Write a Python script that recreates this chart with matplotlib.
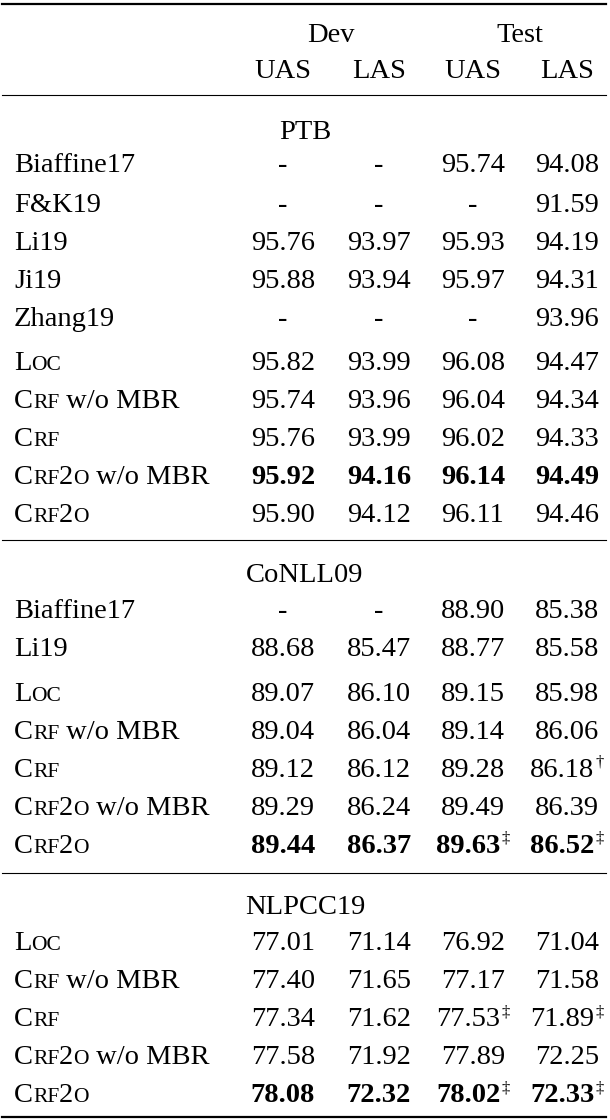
import matplotlib
matplotlib.use("Agg")
import matplotlib.pyplot as plt

# table content
sections = ["PTB", "CoNLL09", "NLPCC19"]

ptb_models = ["Biaffine17", "F&K19", "Li19", "Ji19", "Zhang19",
              "Loc", "Crf w/o MBR", "Crf", "Crf2o w/o MBR", "Crf2o"]
ptb_values = [["-", "-", "95.74", "94.08"],
              ["-", "-", "-", "91.59"],
              ["95.76", "93.97", "95.93", "94.19"],
              ["95.88", "93.94", "95.97", "94.31"],
              ["-", "-", "-", "93.96"],
              ["95.82", "93.99", "96.08", "94.47"],
              ["95.74", "93.96", "96.04", "94.34"],
              ["95.76", "93.99", "96.02", "94.33"],
              ["95.92", "94.16", "96.14", "94.49"],
              ["95.90", "94.12", "96.11", "94.46"]]
ptb_marks = [[""] * 4 for _ in ptb_models]
ptb_bold = 8

conll_models = ["Biaffine17", "Li19", "Loc", "Crf w/o MBR", "Crf",
                "Crf2o w/o MBR", "Crf2o"]
conll_values = [["-", "-", "88.90", "85.38"],
                ["88.68", "85.47", "88.77", "85.58"],
                ["89.07", "86.10", "89.15", "85.98"],
                ["89.04", "86.04", "89.14", "86.06"],
                ["89.12", "86.12", "89.28", "86.18"],
                ["89.29", "86.24", "89.49", "86.39"],
                ["89.44", "86.37", "89.63", "86.52"]]
conll_marks = [[""] * 4 for _ in conll_models]
conll_marks[4][3] = "\u2020"
conll_marks[6][2] = "\u2021"
conll_marks[6][3] = "\u2021"
conll_bold = 6

nlpcc_models = ["Loc", "Crf w/o MBR", "Crf", "Crf2o w/o MBR", "Crf2o"]
nlpcc_values = [["77.01", "71.14", "76.92", "71.04"],
                ["77.40", "71.65", "77.17", "71.58"],
                ["77.34", "71.62", "77.53", "71.89"],
                ["77.58", "71.92", "77.89", "72.25"],
                ["78.08", "72.32", "78.02", "72.33"]]
nlpcc_marks = [[""] * 4 for _ in nlpcc_models]
nlpcc_marks[2][2] = "\u2021"
nlpcc_marks[2][3] = "\u2021"
nlpcc_marks[4][2] = "\u2021"
nlpcc_marks[4][3] = "\u2021"
nlpcc_bold = 4

col_x = [283, 379, 473, 567]
FONT = "Liberation Serif"
FS = 20.5
SMALL = 15.5

fig = plt.figure(figsize=(6.1, 11.2), dpi=100)
ax = fig.add_axes([0, 0, 1, 1])
ax.set_xlim(0, 610)
ax.set_ylim(1120, 0)
ax.axis("off")
renderer = fig.canvas.get_renderer()


def width_of(t):
    bb = t.get_window_extent(renderer=renderer)
    return bb.width  # 1 px == 1 data unit here


def label_parts(name):
    # small caps for model names Loc / Crf / Crf2o
    head, _, tail = name.partition(" ")
    parts = []
    if head in ("Loc", "Crf", "Crf2o"):
        parts.append((head[0], False))
        rest = head[1:]
        if rest.startswith("rf"):
            parts.append(("RF", True))
            rest = rest[2:]
        elif rest == "oc":
            parts.append(("OC", True))
            rest = ""
        if rest == "2o":
            parts.append(("2", False))
            parts.append(("O", True))
    else:
        parts.append((head, False))
    if tail:
        parts.append((" " + tail, False))
    return parts


def draw_label(x, y, name):
    for txt, small in label_parts(name):
        t = ax.text(x, y, txt, fontsize=SMALL if small else FS, family=FONT,
                    ha="left", va="baseline")
        x += width_of(t)


def draw_cell(cx, y, val, mark, bold):
    w = "bold" if bold else "normal"
    t = ax.text(0, y, val, fontsize=FS, family=FONT, weight=w, ha="left", va="baseline")
    wv = width_of(t)
    wm = 0
    m = None
    if mark:
        m = ax.text(0, y - 10, mark, fontsize=12, family=FONT, ha="left", va="baseline")
        wm = width_of(m) + 1
    x0 = cx - (wv + wm) / 2
    t.set_x(x0)
    if m is not None:
        m.set_x(x0 + wv + 1)


# header
ax.text(331, 42, "Dev", fontsize=FS, family=FONT, ha="center", va="baseline")
ax.text(520, 42, "Test", fontsize=FS, family=FONT, ha="center", va="baseline")
for cx, h in zip(col_x, ["UAS", "LAS", "UAS", "LAS"]):
    ax.text(cx, 78, h, fontsize=FS, family=FONT, ha="center", va="baseline")

# rules
ax.plot([2, 606], [4, 4], color="black", lw=1.6)
ax.plot([2, 606], [95, 95], color="black", lw=0.8)
ax.plot([2, 606], [540, 540], color="black", lw=0.8)
ax.plot([2, 606], [873, 873], color="black", lw=0.8)
ax.plot([2, 606], [1117, 1117], color="black", lw=1.6)

blocks = [
    (139, ptb_models, ptb_values, ptb_marks, ptb_bold,
     [172, 212, 250, 288, 326, 370, 408, 446, 484, 522]),
    (582, conll_models, conll_values, conll_marks, conll_bold,
     [618, 656, 701, 739, 777, 815, 853]),
    (914, nlpcc_models, nlpcc_values, nlpcc_marks, nlpcc_bold,
     [950, 988, 1026, 1064, 1102]),
]

for sec, (sy, models, vals, marks, bold_row, ys) in zip(sections, blocks):
    ax.text(305, sy, sec, fontsize=FS, family=FONT, ha="center", va="baseline")
    for i, (name, row, mrow, y) in enumerate(zip(models, vals, marks, ys)):
        draw_label(14, y, name)
        for cx, v, mk in zip(col_x, row, mrow):
            draw_cell(cx, y, v, mk, i == bold_row)

fig.savefig("out.png", dpi=100)
